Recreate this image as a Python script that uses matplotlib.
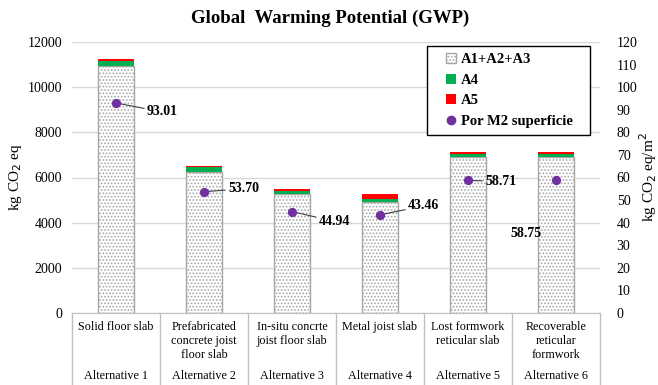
import matplotlib
matplotlib.use("Agg")
import matplotlib.pyplot as plt
import matplotlib.transforms as mtransforms
from matplotlib.patches import Patch, Rectangle
from matplotlib.lines import Line2D

plt.rcParams['font.family'] = ['Liberation Serif', 'DejaVu Serif']
plt.rcParams['hatch.color'] = '#b0b0b0'
plt.rcParams['hatch.linewidth'] = 0.8

categories = ["Solid floor slab", "Prefabricated\nconcrete joist\nfloor slab",
              "In-situ concrte\njoist floor slab", "Metal joist slab",
              "Lost formwork\nreticular slab", "Recoverable\nreticular\nformwork"]
alternatives = ["Alternative 1", "Alternative 2", "Alternative 3",
                "Alternative 4", "Alternative 5", "Alternative 6"]
a123 = [10950, 6260, 5280, 4930, 6920, 6900]
a4 = [195, 190, 120, 130, 120, 120]
a5 = [90, 80, 80, 200, 100, 100]
per_m2 = [93.01, 53.70, 44.94, 43.46, 58.71, 58.75]
label_offsets = [(31, -9), (24, 3), (27, -10), (28, 9), (17, -1), (-30, -53)]

W, H = 658, 385
fig = plt.figure(figsize=(W / 100, H / 100), dpi=100)
ax = fig.add_axes([72 / W, (H - 313) / H, (600 - 72) / W, (313 - 42) / H])
ax2 = ax.twinx()

x = list(range(len(categories)))
bw = 0.41
ax.bar(x, a123, bw, color='white', edgecolor='#a6a6a6', hatch='.....', linewidth=1.0, zorder=3)
ax.bar(x, a4, bw, bottom=a123, color='#00b050', edgecolor='none', zorder=3)
bot5 = [p + q for p, q in zip(a123, a4)]
ax.bar(x, a5, bw, bottom=bot5, color='#ff0000', edgecolor='none', zorder=3)

ax.set_xlim(-0.5, len(categories) - 0.5)
ax.set_ylim(0, 12000)
ax.set_yticks(range(0, 12001, 2000))
ax.yaxis.grid(True, color='#d9d9d9', linewidth=1.0, zorder=0)
ax.set_axisbelow(True)
ax.set_xticks([])
for s in ['top', 'right', 'left']:
    ax.spines[s].set_visible(False)
ax.spines['bottom'].set_color('#bfbfbf')
ax.tick_params(axis='y', length=0, labelsize=10, pad=7)
ax.set_ylabel("kg CO$_2$ eq", fontsize=11)
ax.yaxis.set_label_coords((24 - 72) / 528, 0.5)

ax2.set_ylim(0, 120)
ax2.set_yticks(range(0, 121, 10))
for s in ['top', 'right', 'left', 'bottom']:
    ax2.spines[s].set_visible(False)
ax2.tick_params(axis='y', length=0, labelsize=10, pad=12)
ax2.set_ylabel("kg CO$_2$ eq/m$^2$", fontsize=11)
ax2.yaxis.set_label_coords((637 - 72) / 528, 0.5)

ax2.scatter(x, per_m2, s=32, color='#7030a0', zorder=5)
for xi, v, off in zip(x, per_m2, label_offsets):
    if off[0] < 0:
        ax2.annotate(f"{v:.2f}", (xi, v), xytext=off, textcoords='offset pixels',
                     ha='center', va='center', fontsize=10, fontweight='bold')
    else:
        ax2.annotate(f"{v:.2f}", (xi, v), xytext=off, textcoords='offset pixels',
                     ha='left', va='center', fontsize=10, fontweight='bold',
                     arrowprops=dict(arrowstyle='-', color='#404040', lw=0.8,
                                     shrinkA=0, shrinkB=1))

# category table under the axis
trans = mtransforms.blended_transform_factory(ax.transData, ax.transAxes)
ax_h = (313 - 42)
for i in range(len(categories) + 1):
    ax.plot([i - 0.5, i - 0.5], [0, -(385 - 313) / ax_h], transform=trans,
            color='#bfbfbf', lw=1.0, clip_on=False)
for xi, c, a in zip(x, categories, alternatives):
    ax.text(xi, -(321 - 313) / ax_h, c, transform=trans, ha='center', va='top',
            fontsize=8.7, linespacing=1.2)
    ax.text(xi, -(376 - 313) / ax_h, a, transform=trans, ha='center', va='center',
            fontsize=8.7)

fig.text(330 / W, 1 - 18 / H, "Global  Warming Potential (GWP)", ha='center', va='center',
         fontsize=13.5, fontweight='bold')

handles = [Patch(facecolor='white', edgecolor='#a6a6a6', hatch='.....', label='A1+A2+A3'),
           Patch(facecolor='#00b050', edgecolor='none', label='A4'),
           Patch(facecolor='#ff0000', edgecolor='none', label='A5'),
           Line2D([], [], marker='o', color='none', markerfacecolor='#7030a0',
                  markeredgecolor='#7030a0', markersize=6, label='Por M2 superficie')]
leg = fig.legend(handles=handles, loc='center left',
                 bbox_to_anchor=(446 / W, 1 - 90.5 / H),
                 frameon=False, prop={'weight': 'bold', 'size': 10.5},
                 handlelength=0.7, handleheight=0.7,
                 handletextpad=0.35, labelspacing=0.5, borderpad=0, borderaxespad=0)
fig.patches.append(Rectangle((427 / W, 1 - 135 / H), (590 - 427) / W, (135 - 46) / H,
                             transform=fig.transFigure, facecolor='white',
                             edgecolor='black', lw=1.0, zorder=0.5))

fig.savefig("out.png", dpi=100)
